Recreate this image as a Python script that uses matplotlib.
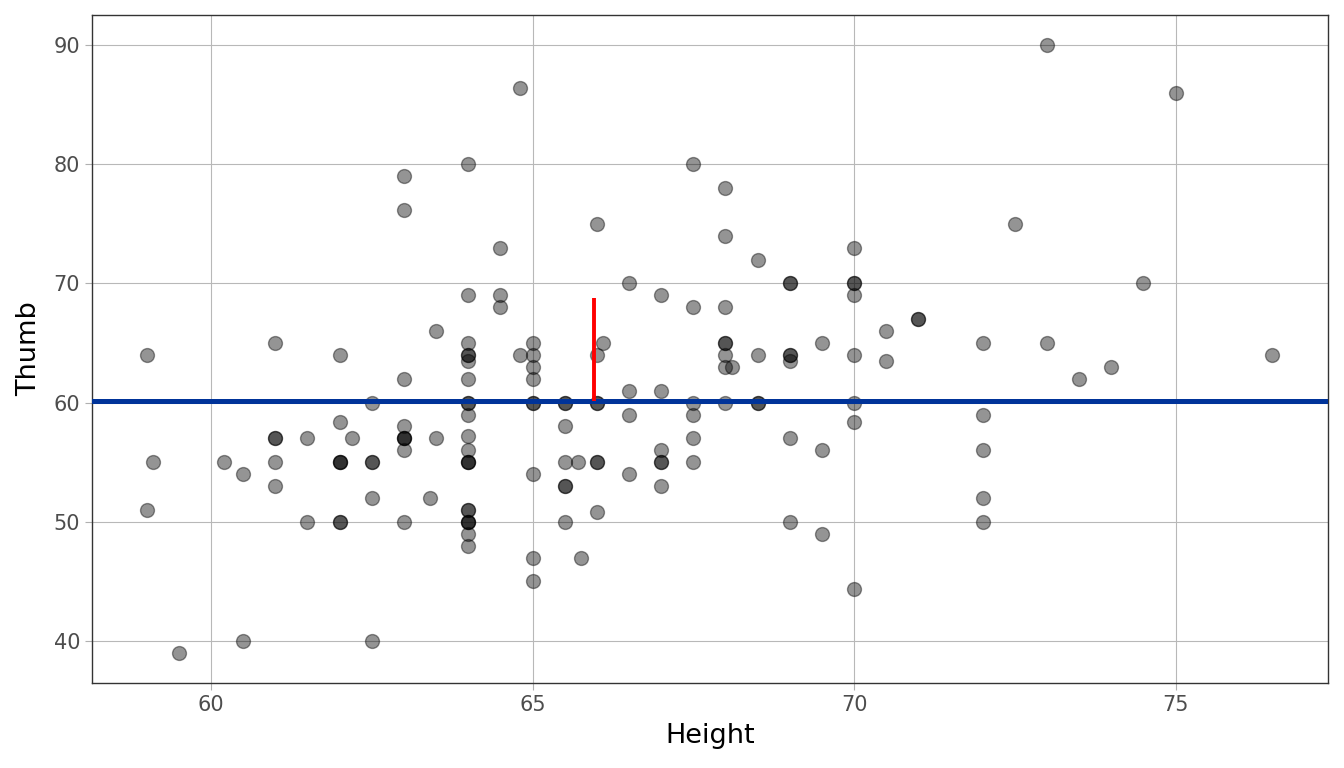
import matplotlib
matplotlib.use("Agg")
import matplotlib.pyplot as plt

# ---- data (Height, Thumb) ----
height = ([59.0]*2 + [59.1] + [59.5] + [60.2] + [60.5]*2 + [61.0]*5 + [61.5]*2 +
          [62.0]*7 + [62.2] + [62.5]*5 + [63.0]*9 + [63.4] + [63.5]*2 +
          [64.0]*22 + [64.5]*3 + [64.8]*2 + [65.0]*9 + [65.5]*7 + [65.7] + [65.75] +
          [66.0]*7 + [66.1] + [66.5]*4 + [67.0]*6 + [67.5]*6 + [68.0]*8 + [68.1] +
          [68.5]*4 + [69.0]*7 + [69.5]*3 + [70.0]*8 + [70.5]*2 + [71.0]*2 +
          [72.0]*5 + [72.5] + [73.0]*2 + [73.5] + [74.0] + [74.5] + [75.0] + [76.5])
thumb = ([64, 51] + [55] + [39] + [55] + [54, 40] + [65, 57, 57, 55, 53] + [57, 50] +
         [64, 58.4, 55, 55, 55, 50, 50] + [57] + [60, 55, 55, 52, 40] +
         [79, 76.2, 62, 58, 57, 57, 57, 56, 50] + [52] + [66, 57] +
         [80, 69, 65, 64, 64, 63.5, 62, 60, 60, 59, 57.2, 56, 55, 55, 55, 51, 51, 50, 50, 50, 49, 48] +
         [73, 69, 68] + [86.4, 64] + [65, 64, 63, 62, 60, 60, 54, 47, 45] +
         [60, 60, 58, 55, 53, 53, 50] + [55] + [47] +
         [75, 64, 60, 60, 55, 55, 50.8] + [65] + [70, 61, 59, 54] +
         [69, 61, 56, 55, 55, 53] + [80, 68, 60, 59, 57, 55] +
         [78, 74, 68, 65, 65, 64, 63, 60] + [63] + [72, 64, 60, 60] +
         [70, 70, 64, 64, 63.5, 57, 50] + [65, 56, 49] +
         [73, 70, 70, 69, 64, 60, 58.4, 44.4] + [66, 63.5] + [67, 67] +
         [65, 59, 56, 52, 50] + [75] + [90, 65] + [62] + [63] + [70] + [86] + [64])

mean_thumb = 60.1
seg_x = 65.96
seg_y = [60.1, 68.8]

x_ticks = [60, 65, 70, 75]
y_ticks = [40, 50, 60, 70, 80, 90]

fig = plt.figure(figsize=(13.44, 7.68), dpi=100)
ax = fig.add_axes([92/1344, 1-683/768, (1328-92)/1344, (683-15)/768])

ax.set_axisbelow(True)
ax.grid(True, color="#b8b8b8", linewidth=0.8)
ax.scatter(height, thumb, s=100, facecolor="black", edgecolor="black",
           alpha=0.42, linewidths=1.0, zorder=2)
ax.axhline(mean_thumb, color="#003399", linewidth=3.6, zorder=3)
ax.plot([seg_x, seg_x], seg_y, color="#ff0000", linewidth=2.8, zorder=4,
        solid_capstyle="butt")

ax.set_xlim(58.15, 77.37)
ax.set_ylim(36.48, 92.52)
ax.set_xticks(x_ticks)
ax.set_yticks(y_ticks)
ax.tick_params(axis="both", colors="#b0b0b0", labelcolor="#4d4d4d",
               labelsize=15, length=5, width=0.8)
for s in ax.spines.values():
    s.set_color("#333333")
    s.set_linewidth(1.0)

ax.set_xlabel("Height", fontsize=19.5, color="black", labelpad=6)
ax.set_ylabel("Thumb", fontsize=19.5, color="black", labelpad=8)

fig.savefig("out.png", dpi=100)
